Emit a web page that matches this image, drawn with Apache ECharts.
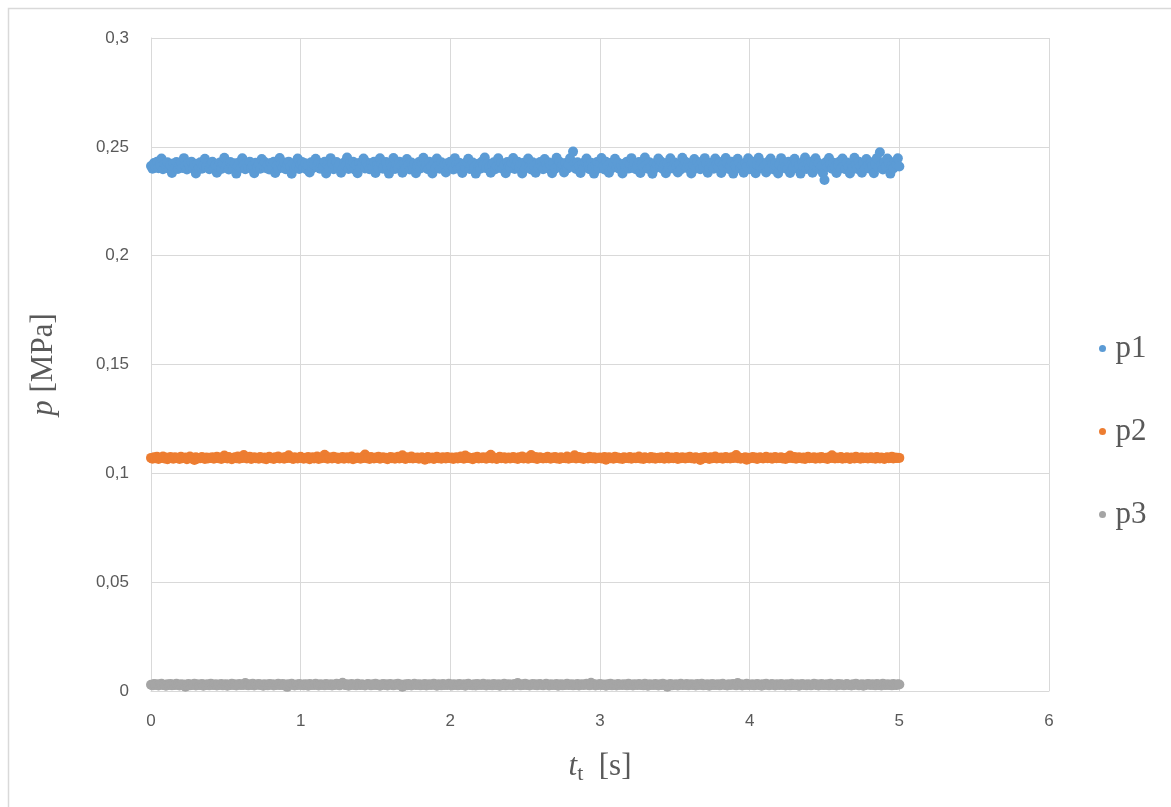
<!DOCTYPE html>
<html>
<head>
<meta charset="utf-8">
<title>p(t)</title>
<script src="https://cdn.jsdelivr.net/npm/echarts@6/dist/echarts.min.js"></script>
<style>
  html, body { margin: 0; padding: 0; background: #ffffff; }
  #chart { width: 1171px; height: 807px; }
</style>
</head>
<body>
<div id="chart"></div>
<script>
// Pressure records p1, p2, p3 [MPa], sampled every SAMPLE_STEP seconds from t = 0 to 5 s
const SAMPLE_STEP = 0.01;

const p1 = [
  0.2412, 0.2399, 0.2426, 0.2405, 0.2431, 0.2402, 0.2418, 0.2446, 0.2397, 0.2421, 0.2409, 0.2429, 0.2400, 0.2415, 0.2380, 0.2424, 0.2406, 0.2430, 0.2398, 0.2419,
  0.2427, 0.2403, 0.2448, 0.2411, 0.2396, 0.2425, 0.2408, 0.2432, 0.2401, 0.2417, 0.2378, 0.2422, 0.2404, 0.2429, 0.2399, 0.2414, 0.2445, 0.2407, 0.2426, 0.2397,
  0.2420, 0.2431, 0.2402, 0.2416, 0.2381, 0.2410, 0.2428, 0.2398, 0.2423, 0.2450, 0.2405, 0.2419, 0.2396, 0.2430, 0.2411, 0.2400, 0.2425, 0.2377, 0.2413, 0.2429,
  0.2403, 0.2447, 0.2418, 0.2397, 0.2424, 0.2408, 0.2432, 0.2401, 0.2415, 0.2379, 0.2427, 0.2406, 0.2421, 0.2399, 0.2444, 0.2412, 0.2430, 0.2402, 0.2417, 0.2396,
  0.2426, 0.2409, 0.2431, 0.2380, 0.2414, 0.2400, 0.2449, 0.2420, 0.2404, 0.2428, 0.2397, 0.2416, 0.2432, 0.2407, 0.2376, 0.2423, 0.2401, 0.2411, 0.2446, 0.2398,
  0.2419, 0.2430, 0.2405, 0.2425, 0.2396, 0.2413, 0.2382, 0.2429, 0.2402, 0.2418, 0.2445, 0.2408, 0.2427, 0.2399, 0.2421, 0.2410, 0.2431, 0.2378, 0.2415, 0.2403,
  0.2448, 0.2424, 0.2397, 0.2412, 0.2430, 0.2406, 0.2420, 0.2381, 0.2400, 0.2428, 0.2414, 0.2451, 0.2398, 0.2423, 0.2409, 0.2432, 0.2396, 0.2417, 0.2379, 0.2426,
  0.2404, 0.2419, 0.2446, 0.2401, 0.2429, 0.2411, 0.2397, 0.2425, 0.2407, 0.2431, 0.2380, 0.2416, 0.2402, 0.2447, 0.2422, 0.2399, 0.2413, 0.2430, 0.2405, 0.2377,
  0.2427, 0.2410, 0.2449, 0.2398, 0.2420, 0.2403, 0.2432, 0.2415, 0.2381, 0.2424, 0.2400, 0.2444, 0.2418, 0.2396, 0.2428, 0.2408, 0.2421, 0.2379, 0.2412, 0.2430,
  0.2401, 0.2426, 0.2450, 0.2405, 0.2417, 0.2397, 0.2431, 0.2411, 0.2378, 0.2423, 0.2402, 0.2446, 0.2414, 0.2399, 0.2429, 0.2407, 0.2420, 0.2382, 0.2425, 0.2403,
  0.2432, 0.2413, 0.2396, 0.2448, 0.2419, 0.2400, 0.2427, 0.2409, 0.2380, 0.2422, 0.2404, 0.2430, 0.2445, 0.2398, 0.2416, 0.2428, 0.2406, 0.2377, 0.2421, 0.2410,
  0.2399, 0.2431, 0.2415, 0.2451, 0.2402, 0.2424, 0.2408, 0.2381, 0.2419, 0.2429, 0.2397, 0.2412, 0.2447, 0.2405, 0.2426, 0.2400, 0.2418, 0.2379, 0.2430, 0.2411,
  0.2403, 0.2425, 0.2449, 0.2398, 0.2414, 0.2432, 0.2406, 0.2420, 0.2378, 0.2427, 0.2401, 0.2417, 0.2446, 0.2409, 0.2396, 0.2429, 0.2413, 0.2381, 0.2423, 0.2404,
  0.2430, 0.2410, 0.2397, 0.2444, 0.2421, 0.2402, 0.2428, 0.2415, 0.2379, 0.2425, 0.2399, 0.2450, 0.2412, 0.2431, 0.2405, 0.2419, 0.2382, 0.2426, 0.2400, 0.2416,
  0.2447, 0.2408, 0.2478, 0.2423, 0.2398, 0.2429, 0.2411, 0.2380, 0.2420, 0.2403, 0.2432, 0.2446, 0.2414, 0.2397, 0.2427, 0.2406, 0.2377, 0.2418, 0.2430, 0.2401,
  0.2424, 0.2449, 0.2409, 0.2396, 0.2431, 0.2413, 0.2381, 0.2426, 0.2402, 0.2419, 0.2445, 0.2405, 0.2428, 0.2399, 0.2416, 0.2378, 0.2422, 0.2410, 0.2432, 0.2400,
  0.2417, 0.2448, 0.2404, 0.2427, 0.2397, 0.2412, 0.2430, 0.2380, 0.2421, 0.2406, 0.2451, 0.2415, 0.2399, 0.2429, 0.2408, 0.2376, 0.2424, 0.2402, 0.2418, 0.2446,
  0.2411, 0.2431, 0.2398, 0.2420, 0.2379, 0.2426, 0.2405, 0.2447, 0.2413, 0.2400, 0.2428, 0.2410, 0.2382, 0.2422, 0.2396, 0.2450, 0.2417, 0.2432, 0.2403, 0.2425,
  0.2407, 0.2378, 0.2419, 0.2444, 0.2401, 0.2429, 0.2414, 0.2397, 0.2431, 0.2409, 0.2448, 0.2423, 0.2381, 0.2404, 0.2427, 0.2412, 0.2399, 0.2446, 0.2420, 0.2406,
  0.2430, 0.2380, 0.2416, 0.2402, 0.2449, 0.2425, 0.2398, 0.2411, 0.2432, 0.2377, 0.2419, 0.2405, 0.2445, 0.2428, 0.2400, 0.2414, 0.2381, 0.2426, 0.2409, 0.2447,
  0.2397, 0.2421, 0.2431, 0.2404, 0.2379, 0.2418, 0.2450, 0.2408, 0.2427, 0.2399, 0.2413, 0.2382, 0.2430, 0.2402, 0.2446, 0.2420, 0.2396, 0.2425, 0.2410, 0.2378,
  0.2416, 0.2448, 0.2403, 0.2429, 0.2411, 0.2397, 0.2432, 0.2380, 0.2419, 0.2406, 0.2445, 0.2424, 0.2400, 0.2414, 0.2377, 0.2428, 0.2409, 0.2451, 0.2398, 0.2422,
  0.2405, 0.2431, 0.2381, 0.2417, 0.2447, 0.2402, 0.2426, 0.2396, 0.2412, 0.2379, 0.2348, 0.2430, 0.2407, 0.2449, 0.2420, 0.2399, 0.2427, 0.2410, 0.2380, 0.2418,
  0.2432, 0.2401, 0.2446, 0.2415, 0.2397, 0.2428, 0.2408, 0.2378, 0.2423, 0.2404, 0.2450, 0.2419, 0.2398, 0.2431, 0.2411, 0.2381, 0.2426, 0.2402, 0.2444, 0.2416,
  0.2400, 0.2429, 0.2412, 0.2379, 0.2421, 0.2448, 0.2405, 0.2475, 0.2418, 0.2396, 0.2430, 0.2409, 0.2446, 0.2425, 0.2377, 0.2414, 0.2401, 0.2432, 0.2420, 0.2447,
  0.2410
];

const p2 = [
  0.1071, 0.1067, 0.1074, 0.1069, 0.1076, 0.1066, 0.1072, 0.1070, 0.1077, 0.1068, 0.1073, 0.1065, 0.1071, 0.1075, 0.1069, 0.1067, 0.1074, 0.1070, 0.1072, 0.1066,
  0.1076, 0.1069, 0.1071, 0.1073, 0.1065, 0.1070, 0.1077, 0.1068, 0.1072, 0.1061, 0.1074, 0.1067, 0.1071, 0.1069, 0.1075, 0.1070, 0.1066, 0.1073, 0.1068, 0.1072,
  0.1070, 0.1074, 0.1067, 0.1071, 0.1076, 0.1069, 0.1073, 0.1066, 0.1070, 0.1082, 0.1072, 0.1068, 0.1075, 0.1070, 0.1065, 0.1071, 0.1074, 0.1069, 0.1077, 0.1067,
  0.1072, 0.1070, 0.1084, 0.1073, 0.1068, 0.1071, 0.1076, 0.1066, 0.1070, 0.1074, 0.1069, 0.1072, 0.1067, 0.1075, 0.1071, 0.1068, 0.1073, 0.1065, 0.1070, 0.1076,
  0.1069, 0.1072, 0.1066, 0.1074, 0.1070, 0.1077, 0.1068, 0.1071, 0.1073, 0.1067, 0.1075, 0.1070, 0.1083, 0.1072, 0.1069, 0.1066, 0.1074, 0.1071, 0.1068, 0.1073,
  0.1076, 0.1070, 0.1067, 0.1072, 0.1069, 0.1075, 0.1065, 0.1071, 0.1074, 0.1068, 0.1070, 0.1077, 0.1066, 0.1072, 0.1069, 0.1073, 0.1085, 0.1070, 0.1067, 0.1074,
  0.1071, 0.1068, 0.1076, 0.1070, 0.1073, 0.1066, 0.1072, 0.1069, 0.1075, 0.1067, 0.1071, 0.1074, 0.1068, 0.1070, 0.1077, 0.1065, 0.1072, 0.1069, 0.1073, 0.1070,
  0.1067, 0.1074, 0.1071, 0.1086, 0.1069, 0.1072, 0.1066, 0.1075, 0.1070, 0.1068, 0.1073, 0.1071, 0.1076, 0.1067, 0.1070, 0.1074, 0.1069, 0.1072, 0.1065, 0.1071,
  0.1075, 0.1069, 0.1073, 0.1067, 0.1070, 0.1076, 0.1068, 0.1072, 0.1083, 0.1070, 0.1066, 0.1074, 0.1071, 0.1069, 0.1077, 0.1068, 0.1072, 0.1070, 0.1073, 0.1067,
  0.1071, 0.1074, 0.1069, 0.1062, 0.1072, 0.1075, 0.1068, 0.1070, 0.1073, 0.1066, 0.1071, 0.1076, 0.1069, 0.1072, 0.1067, 0.1074, 0.1070, 0.1068, 0.1075, 0.1071,
  0.1069, 0.1073, 0.1066, 0.1071, 0.1074, 0.1068, 0.1070, 0.1077, 0.1072, 0.1067, 0.1082, 0.1070, 0.1074, 0.1069, 0.1071, 0.1065, 0.1073, 0.1070, 0.1076, 0.1068,
  0.1072, 0.1069, 0.1074, 0.1070, 0.1067, 0.1075, 0.1071, 0.1085, 0.1068, 0.1073, 0.1070, 0.1066, 0.1072, 0.1076, 0.1069, 0.1071, 0.1074, 0.1067, 0.1070, 0.1073,
  0.1068, 0.1071, 0.1075, 0.1069, 0.1072, 0.1066, 0.1074, 0.1070, 0.1077, 0.1068, 0.1071, 0.1073, 0.1067, 0.1070, 0.1084, 0.1072, 0.1069, 0.1075, 0.1066, 0.1071,
  0.1074, 0.1070, 0.1068, 0.1072, 0.1069, 0.1076, 0.1071, 0.1067, 0.1073, 0.1070, 0.1075, 0.1068, 0.1072, 0.1066, 0.1074, 0.1070, 0.1071, 0.1069, 0.1077, 0.1067,
  0.1072, 0.1070, 0.1074, 0.1083, 0.1068, 0.1071, 0.1075, 0.1069, 0.1073, 0.1066, 0.1070, 0.1072, 0.1068, 0.1076, 0.1071, 0.1069, 0.1074, 0.1067, 0.1072, 0.1070,
  0.1073, 0.1068, 0.1071, 0.1075, 0.1062, 0.1070, 0.1074, 0.1069, 0.1072, 0.1067, 0.1076, 0.1070, 0.1073, 0.1068, 0.1071, 0.1066, 0.1074, 0.1070, 0.1072, 0.1069,
  0.1075, 0.1067, 0.1071, 0.1073, 0.1069, 0.1070, 0.1077, 0.1068, 0.1072, 0.1066, 0.1074, 0.1070, 0.1071, 0.1068, 0.1075, 0.1069, 0.1073, 0.1067, 0.1070, 0.1072,
  0.1069, 0.1074, 0.1070, 0.1067, 0.1072, 0.1076, 0.1068, 0.1071, 0.1073, 0.1069, 0.1070, 0.1075, 0.1066, 0.1072, 0.1069, 0.1074, 0.1070, 0.1068, 0.1073, 0.1071,
  0.1076, 0.1069, 0.1072, 0.1067, 0.1074, 0.1070, 0.1071, 0.1061, 0.1073, 0.1068, 0.1075, 0.1070, 0.1072, 0.1066, 0.1074, 0.1069, 0.1071, 0.1077, 0.1068, 0.1072,
  0.1070, 0.1073, 0.1067, 0.1071, 0.1075, 0.1069, 0.1072, 0.1068, 0.1074, 0.1070, 0.1076, 0.1084, 0.1069, 0.1073, 0.1067, 0.1071, 0.1070, 0.1074, 0.1062, 0.1072,
  0.1068, 0.1071, 0.1075, 0.1069, 0.1073, 0.1066, 0.1070, 0.1074, 0.1071, 0.1068, 0.1072, 0.1076, 0.1069, 0.1070, 0.1073, 0.1067, 0.1071, 0.1075, 0.1069, 0.1072,
  0.1070, 0.1074, 0.1068, 0.1071, 0.1066, 0.1073, 0.1070, 0.1082, 0.1072, 0.1069, 0.1075, 0.1067, 0.1071, 0.1074, 0.1070, 0.1068, 0.1073, 0.1066, 0.1071, 0.1076,
  0.1069, 0.1072, 0.1070, 0.1074, 0.1067, 0.1071, 0.1073, 0.1068, 0.1075, 0.1070, 0.1069, 0.1072, 0.1066, 0.1074, 0.1071, 0.1083, 0.1070, 0.1068, 0.1073, 0.1069,
  0.1072, 0.1075, 0.1067, 0.1071, 0.1069, 0.1074, 0.1070, 0.1066, 0.1073, 0.1071, 0.1068, 0.1076, 0.1070, 0.1072, 0.1067, 0.1074, 0.1069, 0.1071, 0.1073, 0.1068,
  0.1070, 0.1074, 0.1069, 0.1072, 0.1067, 0.1075, 0.1071, 0.1068, 0.1073, 0.1070, 0.1066, 0.1072, 0.1074, 0.1069, 0.1071, 0.1076, 0.1068, 0.1073, 0.1070, 0.1072,
  0.1071
];

const p3 = [
  0.0029, 0.0026, 0.0032, 0.0028, 0.0031, 0.0025, 0.0030, 0.0033, 0.0027, 0.0029, 0.0024, 0.0031, 0.0028, 0.0032, 0.0026, 0.0030, 0.0027, 0.0033, 0.0029, 0.0025,
  0.0031, 0.0028, 0.0030, 0.0020, 0.0029, 0.0032, 0.0026, 0.0030, 0.0028, 0.0033, 0.0025, 0.0031, 0.0027, 0.0029, 0.0032, 0.0024, 0.0030, 0.0028, 0.0031, 0.0026,
  0.0033, 0.0029, 0.0027, 0.0031, 0.0025, 0.0030, 0.0028, 0.0032, 0.0026, 0.0029, 0.0031, 0.0024, 0.0030, 0.0027, 0.0033, 0.0028, 0.0031, 0.0025, 0.0029, 0.0032,
  0.0027, 0.0030, 0.0028, 0.0037, 0.0029, 0.0026, 0.0031, 0.0028, 0.0033, 0.0025, 0.0030, 0.0029, 0.0032, 0.0027, 0.0030, 0.0024, 0.0031, 0.0028, 0.0026, 0.0032,
  0.0029, 0.0031, 0.0025, 0.0030, 0.0028, 0.0033, 0.0027, 0.0029, 0.0032, 0.0026, 0.0030, 0.0019, 0.0031, 0.0028, 0.0033, 0.0029, 0.0025, 0.0030, 0.0027, 0.0032,
  0.0028, 0.0030, 0.0026, 0.0031, 0.0029, 0.0024, 0.0032, 0.0028, 0.0030, 0.0027, 0.0033, 0.0029, 0.0025, 0.0031, 0.0028, 0.0030, 0.0026, 0.0032, 0.0029, 0.0027,
  0.0031, 0.0025, 0.0030, 0.0028, 0.0033, 0.0029, 0.0026, 0.0032, 0.0038, 0.0030, 0.0027, 0.0031, 0.0024, 0.0029, 0.0032, 0.0028, 0.0030, 0.0026, 0.0033, 0.0029,
  0.0027, 0.0031, 0.0028, 0.0025, 0.0030, 0.0032, 0.0029, 0.0026, 0.0031, 0.0028, 0.0033, 0.0027, 0.0030, 0.0024, 0.0029, 0.0032, 0.0028, 0.0031, 0.0025, 0.0030,
  0.0032, 0.0028, 0.0026, 0.0031, 0.0029, 0.0033, 0.0027, 0.0030, 0.0020, 0.0028, 0.0031, 0.0026, 0.0032, 0.0029, 0.0025, 0.0030, 0.0033, 0.0027, 0.0029, 0.0031,
  0.0026, 0.0030, 0.0028, 0.0032, 0.0025, 0.0029, 0.0031, 0.0027, 0.0030, 0.0033, 0.0028, 0.0024, 0.0031, 0.0029, 0.0026, 0.0032, 0.0028, 0.0030, 0.0027, 0.0033,
  0.0029, 0.0025, 0.0031, 0.0028, 0.0030, 0.0026, 0.0032, 0.0029, 0.0027, 0.0031, 0.0024, 0.0030, 0.0033, 0.0028, 0.0029, 0.0026, 0.0031, 0.0025, 0.0032, 0.0028,
  0.0030, 0.0027, 0.0033, 0.0029, 0.0025, 0.0031, 0.0028, 0.0030, 0.0026, 0.0032, 0.0029, 0.0027, 0.0031, 0.0024, 0.0030, 0.0028, 0.0033, 0.0026, 0.0029, 0.0031,
  0.0027, 0.0030, 0.0025, 0.0032, 0.0028, 0.0037, 0.0029, 0.0026, 0.0031, 0.0028, 0.0033, 0.0027, 0.0030, 0.0025, 0.0029, 0.0032, 0.0028, 0.0031, 0.0026, 0.0030,
  0.0032, 0.0028, 0.0026, 0.0030, 0.0033, 0.0029, 0.0025, 0.0031, 0.0027, 0.0030, 0.0028, 0.0032, 0.0024, 0.0029, 0.0031, 0.0026, 0.0030, 0.0028, 0.0033, 0.0027,
  0.0029, 0.0031, 0.0026, 0.0030, 0.0028, 0.0032, 0.0025, 0.0029, 0.0031, 0.0027, 0.0030, 0.0033, 0.0028, 0.0026, 0.0038, 0.0029, 0.0031, 0.0025, 0.0030, 0.0028,
  0.0032, 0.0027, 0.0030, 0.0029, 0.0024, 0.0031, 0.0028, 0.0033, 0.0026, 0.0030, 0.0029, 0.0025, 0.0032, 0.0028, 0.0030, 0.0027, 0.0031, 0.0029, 0.0026, 0.0033,
  0.0028, 0.0030, 0.0025, 0.0031, 0.0029, 0.0027, 0.0032, 0.0028, 0.0030, 0.0026, 0.0033, 0.0029, 0.0024, 0.0031, 0.0028, 0.0030, 0.0027, 0.0032, 0.0029, 0.0025,
  0.0031, 0.0028, 0.0033, 0.0027, 0.0030, 0.0020, 0.0029, 0.0032, 0.0026, 0.0030, 0.0028, 0.0031, 0.0025, 0.0029, 0.0033, 0.0027, 0.0030, 0.0028, 0.0032, 0.0026,
  0.0029, 0.0031, 0.0027, 0.0030, 0.0025, 0.0032, 0.0028, 0.0029, 0.0033, 0.0026, 0.0030, 0.0028, 0.0031, 0.0024, 0.0029, 0.0032, 0.0027, 0.0030, 0.0028, 0.0031,
  0.0026, 0.0030, 0.0033, 0.0028, 0.0029, 0.0025, 0.0031, 0.0027, 0.0030, 0.0032, 0.0028, 0.0026, 0.0037, 0.0029, 0.0031, 0.0025, 0.0030, 0.0028, 0.0033, 0.0027,
  0.0030, 0.0028, 0.0031, 0.0026, 0.0029, 0.0032, 0.0027, 0.0030, 0.0024, 0.0031, 0.0028, 0.0033, 0.0029, 0.0026, 0.0030, 0.0032, 0.0028, 0.0025, 0.0031, 0.0029,
  0.0027, 0.0032, 0.0028, 0.0030, 0.0025, 0.0031, 0.0029, 0.0026, 0.0033, 0.0028, 0.0030, 0.0027, 0.0031, 0.0024, 0.0029, 0.0032, 0.0028, 0.0030, 0.0026, 0.0031,
  0.0029, 0.0026, 0.0030, 0.0033, 0.0028, 0.0031, 0.0025, 0.0029, 0.0032, 0.0027, 0.0030, 0.0028, 0.0031, 0.0026, 0.0033, 0.0029, 0.0027, 0.0030, 0.0025, 0.0032,
  0.0028, 0.0031, 0.0029, 0.0026, 0.0030, 0.0032, 0.0027, 0.0029, 0.0025, 0.0031, 0.0028, 0.0033, 0.0030, 0.0026, 0.0029, 0.0031, 0.0024, 0.0030, 0.0028, 0.0032,
  0.0030, 0.0027, 0.0031, 0.0029, 0.0026, 0.0032, 0.0028, 0.0030, 0.0025, 0.0033, 0.0029, 0.0027, 0.0031, 0.0028, 0.0030, 0.0026, 0.0032, 0.0029, 0.0027, 0.0031,
  0.0030
];

const seriesNames = ['p1', 'p2', 'p3'];
const seriesColors = ['#5B9BD5', '#ED7D31', '#A5A5A5'];
const seriesValues = [p1, p2, p3];

const axisTextColor = '#595959';
const gridColor = '#D9D9D9';
const serif = '"Liberation Serif", "DejaVu Serif", serif';
const sans = '"Liberation Sans", "Noto Sans", sans-serif';

function toPairs(values) {
  return values.map((v, i) => [i * SAMPLE_STEP, v]);
}

const chart = echarts.init(document.getElementById('chart'), null, { renderer: 'canvas' });

chart.setOption({
  backgroundColor: '#ffffff',
  animation: false,
  graphic: [{
    type: 'rect',
    silent: true,
    z: -10,
    shape: { x: 8.5, y: 8.5, width: 1180, height: 820 },
    style: { fill: 'none', stroke: gridColor, lineWidth: 1.5 }
  }],
  grid: { left: 151, right: 122, top: 38, bottom: 116, containLabel: false },
  legend: {
    orient: 'vertical',
    left: 1094,
    top: 328,
    itemGap: 52,
    itemWidth: 16,
    itemHeight: 7,
    icon: 'circle',
    data: seriesNames,
    textStyle: { fontFamily: serif, fontSize: 31, color: axisTextColor }
  },
  xAxis: {
    type: 'value',
    min: 0,
    max: 6,
    interval: 1,
    axisLine: { show: true, lineStyle: { color: gridColor, width: 1 } },
    axisTick: { show: false },
    splitLine: { show: true, lineStyle: { color: gridColor, width: 1 } },
    axisLabel: { color: axisTextColor, fontFamily: sans, fontSize: 17, margin: 22 },
    name: '{i|t}{sub|t}  [s]',
    nameLocation: 'middle',
    nameGap: 58,
    nameTextStyle: {
      fontFamily: serif, fontSize: 31, color: axisTextColor,
      rich: {
        i: { fontFamily: serif, fontSize: 31, fontStyle: 'italic', color: axisTextColor },
        sub: { fontFamily: serif, fontSize: 22, color: axisTextColor, verticalAlign: 'bottom', padding: [14, 0, 0, 0] }
      }
    }
  },
  yAxis: {
    type: 'value',
    min: 0,
    max: 0.3,
    interval: 0.05,
    axisLine: { show: true, lineStyle: { color: gridColor, width: 1 } },
    axisTick: { show: false },
    splitLine: { show: true, lineStyle: { color: gridColor, width: 1 } },
    axisLabel: {
      color: axisTextColor, fontFamily: sans, fontSize: 17, margin: 22,
      formatter: v => String(Math.round(v * 1000) / 1000).replace('.', ',')
    },
    name: '{i|p} [MPa]',
    nameLocation: 'middle',
    nameGap: 92,
    nameRotate: 90,
    nameTextStyle: {
      fontFamily: serif, fontSize: 31, color: axisTextColor,
      rich: {
        i: { fontFamily: serif, fontSize: 31, fontStyle: 'italic', color: axisTextColor }
      }
    }
  },
  series: seriesNames.map((name, k) => ({
    name: name,
    type: 'scatter',
    symbol: 'circle',
    symbolSize: 10,
    large: false,
    data: toPairs(seriesValues[k]),
    itemStyle: { color: seriesColors[k], opacity: 1 },
    emphasis: { disabled: true }
  }))
});
</script>
</body>
</html>
